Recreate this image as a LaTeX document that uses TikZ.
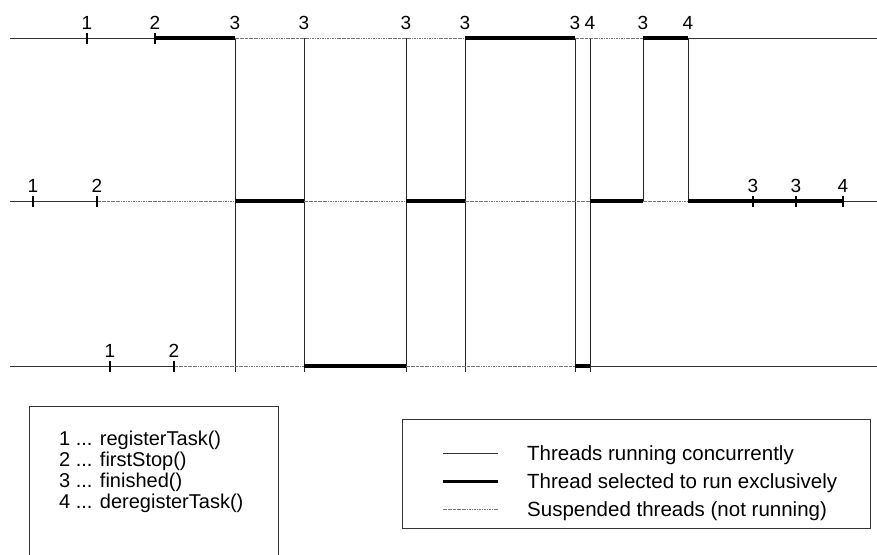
\documentclass[tikz,border=0pt]{standalone}
\usepackage{fontspec}
\setmainfont{Liberation Sans}
\begin{document}
\begin{tikzpicture}[x=1pt,y=-1pt,
  thin line/.style={draw=black!80,line width=0.9pt},
  excl line/.style={draw=black,line width=4pt},
  susp line/.style={draw=black!55,line width=0.9pt,dash pattern=on 2.5pt off 0.8pt on 1pt off 0.8pt},
  switch line/.style={draw=black!85,line width=0.9pt},
  tickmark/.style={draw=black,line width=1.3pt},
  evlabel/.style={anchor=base,inner sep=0pt,font=\fontsize{19}{19}\selectfont},
  keytext/.style={anchor=base west,inner sep=0pt,font=\fontsize{20}{21}\selectfont},
  legtext/.style={anchor=base west,inner sep=0pt,font=\fontsize{20.5}{21}\selectfont},
  legbox/.style={draw=black!80,line width=0.9pt}]
\useasboundingbox (0,0) rectangle (877,554);

% ---- event points on the three thread lines ----
\foreach \n/\x in {0/10,1/87,2/155,3a/235,3b/304,3c/406,3d/465,3e/575,4a/590,3f/643,4b/688,E/877}
  \coordinate (t\n) at (\x,38);
\foreach \n/\x in {0/10,1/33,2/97,3a/235,3b/304,3c/406,3d/465,3e/575,4a/590,3f/643,4b/688,3g/753,3h/796,4c/843,E/877}
  \coordinate (m\n) at (\x,201);
\foreach \n/\x in {0/10,1/110,2/174,3a/235,3b/304,3c/406,3d/465,3e/575,4a/590,E/877}
  \coordinate (b\n) at (\x,366);
\foreach \n/\x in {3a/235,3b/304,3c/406,3d/465,3e/575,4a/590}
  \coordinate (e\n) at (\x,372);

% ---- switches between threads ----
\foreach \n in {3a,3b,3c,3d,3e,4a}
  \draw[switch line] (t\n) -- (e\n);
\foreach \n in {3f,4b}
  \draw[switch line] (t\n) -- (m\n);

% ---- thread 1 ----
\draw[thin line] (t0) -- (t2);
\draw[excl line] (t2) -- (t3a);
\draw[susp line] (t3a) -- (t3d);
\draw[excl line] (t3d) -- (t3e);
\draw[susp line] (t3e) -- (t3f);
\draw[excl line] (t3f) -- (t4b);
\draw[thin line] (t4b) -- (tE);

% ---- thread 2 ----
\draw[thin line] (m0) -- (m2);
\draw[susp line] (m2) -- (m3a);
\draw[excl line] (m3a) -- (m3b);
\draw[susp line] (m3b) -- (m3c);
\draw[excl line] (m3c) -- (m3d);
\draw[susp line] (m3d) -- (m4a);
\draw[excl line] (m4a) -- (m3f);
\draw[susp line] (m3f) -- (m4b);
\draw[excl line] (m4b) -- (m4c);
\draw[thin line] (m4c) -- (mE);

% ---- thread 3 ----
\draw[thin line] (b0) -- (b2);
\draw[susp line] (b2) -- (b3b);
\draw[excl line] (b3b) -- (b3c);
\draw[susp line] (b3c) -- (b3e);
\draw[excl line] (b3e) -- (b4a);
\draw[thin line] (b4a) -- (bE);

% ---- tick marks ----
\foreach \p in {t1,t2,m1,m2,m3g,m3h,m4c,b1,b2}
  \draw[tickmark] ([yshift=-5.5]\p) -- ([yshift=5.5]\p);

% ---- event labels ----
\foreach \p/\t in {t1/1,t2/2,t3a/3,t3b/3,t3c/3,t3d/3,t3e/3,t4a/4,t3f/3,t4b/4,
                   m1/1,m2/2,m3g/3,m3h/3,m4c/4,b1/1,b2/2}
  \node[evlabel] (l\p) at ([yshift=8.5]\p) {\t};

% ---- key of event numbers ----
\draw[legbox] (29,556) -- (29,406) -- (278,406) -- (278,556);
\node[keytext] (k1) at (59,445) {1 ... registerTask()};
\node[keytext] (k2) at (59,466) {2 ... firstStop()};
\node[keytext] (k3) at (59,487) {3 ... finished()};
\node[keytext] (k4) at (59,508) {4 ... deregisterTask()};

% ---- key of line styles ----
\draw[legbox] (402,419) rectangle (870,528);
\coordinate (s1a) at (443,453); \coordinate (s1b) at (498,453);
\coordinate (s2a) at (443,481); \coordinate (s2b) at (498,481);
\coordinate (s3a) at (443,509); \coordinate (s3b) at (498,509);
\draw[thin line] (s1a) -- (s1b);
\draw[excl line,line width=3pt] (s2a) -- (s2b);
\draw[susp line] (s3a) -- (s3b);
\node[legtext] (d1) at (527,460) {Threads running concurrently};
\node[legtext] (d2) at (527,488) {Thread selected to run exclusively};
\node[legtext] (d3) at (527,516) {Suspended threads (not running)};
\end{tikzpicture}
\end{document}
